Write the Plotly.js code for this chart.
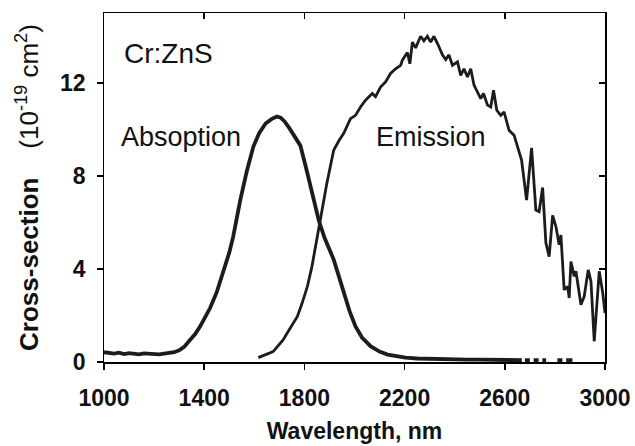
<!DOCTYPE html>
<html>
<head>
<meta charset="utf-8">
<script src="https://cdn.plot.ly/plotly-3.0.1.min.js"></script>
<style>html,body{margin:0;padding:0;background:#fff}#chart{width:635px;height:446px}</style>
</head>
<body>
<div id="chart"></div>
<script>
// Absorption cross-section (10^-19 cm^2) vs wavelength (nm)
var absWl = [1000,1020,1040,1060,1080,1100,1120,1140,1160,1180,1200,1220,1240,1260,1280,1300,1320,1344,1364,1384,1404,1424,1450,1476,1500,1516,1530,1544,1570,1596,1620,1645,1670,1690,1705,1720,1740,1760,1784,1810,1837,1857,1880,1900,1917,1937,1957,1980,2004,2030,2064,2100,2132,2170,2204,2250,2300,2350,2400,2450,2500,2550,2600,2668,2674,2680,2700,2708,2715,2735,2742,2750,2765,2772,2810,2830,2838,2845,2870];
var absVal = [0.42,0.38,0.36,0.40,0.34,0.38,0.36,0.33,0.37,0.35,0.36,0.33,0.36,0.38,0.42,0.50,0.65,0.96,1.20,1.53,1.90,2.33,3.00,3.83,4.70,5.40,6.20,6.96,8.20,9.25,9.85,10.25,10.45,10.55,10.50,10.35,10.05,9.70,9.30,8.20,6.96,6.10,5.35,4.85,4.40,3.70,2.97,2.20,1.53,1.05,0.68,0.45,0.32,0.24,0.19,0.15,0.13,0.12,0.11,0.10,0.10,0.09,0.09,0.08,null,0.08,0.08,null,0.08,0.08,null,0.08,0.08,null,0.08,0.08,null,0.08,0.08];

// Emission cross-section (10^-19 cm^2) vs wavelength (nm)
var emWl = [1616,1640,1660,1676,1700,1715,1732,1750,1772,1790,1812,1830,1844,1864,1890,1917,1937,1957,1984,2004,2024,2044,2071,2084,2104,2124,2144,2164,2184,2191,2211,2221,2231,2244,2264,2277,2291,2304,2317,2331,2351,2364,2377,2391,2411,2424,2437,2451,2464,2477,2491,2504,2515,2531,2544,2555,2568,2584,2597,2617,2637,2656,2667,2687,2707,2724,2737,2751,2764,2777,2791,2804,2817,2824,2837,2851,2857,2864,2877,2884,2904,2917,2933,2944,2957,2977,2991,3000];
var emVal = [0.19,0.28,0.38,0.46,0.75,0.95,1.26,1.55,1.96,2.50,3.25,4.10,4.96,6.10,7.70,9.10,9.50,9.83,10.46,10.60,10.96,11.25,11.54,11.40,11.82,12.04,12.40,12.60,12.75,12.97,13.30,12.82,13.75,13.50,14.00,13.80,14.00,13.75,14.00,13.70,13.20,13.00,13.20,12.75,12.90,12.32,12.60,12.25,12.60,11.90,11.60,11.32,11.54,11.04,10.96,11.68,10.82,10.60,10.75,9.96,9.75,9.10,8.68,6.96,9.20,6.53,6.46,7.50,5.12,4.53,6.30,5.82,5.04,5.46,3.10,3.25,2.75,4.32,3.68,3.90,2.46,2.82,3.96,3.46,0.89,3.90,2.97,2.10];

var xTicks = [1000,1400,1800,2200,2600,3000];
var yTicks = [0,4,8,12];
var labels = ["Cr:ZnS","Absoption","Emission"];

var FONT = "Liberation Sans, Arial, Helvetica, sans-serif";
var ink = "#1c1c1c";

var traces = [
  {x: absWl, y: absVal, mode: "lines", connectgaps: false, line: {color: ink, width: 3.8}, hoverinfo: "skip"},
  {x: emWl, y: emVal, mode: "lines", line: {color: ink, width: 2.8}, hoverinfo: "skip"},
  {x: [xTicks[0]], y: [yTicks[0]], xaxis: "x2", yaxis: "y2", mode: "markers", marker: {opacity: 0}, showlegend: false, hoverinfo: "skip"},
  {x: [xTicks[0]], y: [yTicks[0]], xaxis: "x3", yaxis: "y", mode: "markers", marker: {opacity: 0}, showlegend: false, hoverinfo: "skip"}
];

var layout = {
  width: 635, height: 446,
  margin: {l: 104, r: 30, t: 13, b: 84},
  paper_bgcolor: "#fff", plot_bgcolor: "#fff",
  showlegend: false,
  font: {family: FONT, color: "#111"},
  xaxis: {
    range: [1000, 3000], tickvals: xTicks,
    ticks: "outside", ticklen: 6, tickwidth: 1.5, tickcolor: "#000",
    showline: true, linecolor: "#000", linewidth: 1.5, showgrid: false, zeroline: false,
    showticklabels: false
  },
  xaxis3: {
    overlaying: "x", side: "bottom", range: [1000, 3000], tickvals: xTicks, ticktext: xTicks.map(String),
    ticks: "outside", ticklen: 15, tickwidth: 1, tickcolor: "rgba(0,0,0,0)",
    showline: false, showgrid: false, zeroline: false,
    tickfont: {family: FONT, size: 23, weight: "bold", color: "#111"},
    title: {text: "<b>Wavelength, nm</b>", font: {family: FONT, size: 23, color: "#111"}, standoff: 13}
  },
  yaxis: {
    range: [0, 15], tickvals: yTicks, ticktext: yTicks.map(function (v) { return v + "\u00a0"; }),
    ticks: "outside", ticklen: 6, tickwidth: 1.5, tickcolor: "#000",
    showline: true, linecolor: "#000", linewidth: 1.5, showgrid: false, zeroline: false,
    tickfont: {family: FONT, size: 23, weight: "bold", color: "#111"},
    title: {text: "<b>Cross-section</b>\u00a0\u00a0\u00a0 (10<sup>-19</sup>\u00a0cm<sup>2</sup>)", font: {family: FONT, size: 26, color: "#111"}, standoff: 14}
  },
  xaxis2: {
    overlaying: "x", side: "top", range: [1000, 3000], tickvals: xTicks,
    ticks: "inside", ticklen: 6, tickwidth: 1.5, tickcolor: "#000",
    showticklabels: false, showline: true, linecolor: "#000", linewidth: 1.5, showgrid: false, zeroline: false
  },
  yaxis2: {
    overlaying: "y", side: "right", range: [0, 15], tickvals: yTicks,
    ticks: "inside", ticklen: 6, tickwidth: 1.5, tickcolor: "#000",
    showticklabels: false, showline: true, linecolor: "#000", linewidth: 1.5, showgrid: false, zeroline: false
  },
  annotations: [
    {text: labels[0], xref: "paper", yref: "paper", x: (168-104)/501, y: (446-84-54)/349, xanchor: "center", yanchor: "middle", showarrow: false, font: {family: FONT, size: 28, color: "#111"}},
    {text: labels[1], xref: "paper", yref: "paper", x: (181-104)/501, y: (446-84-137)/349, xanchor: "center", yanchor: "middle", showarrow: false, font: {family: FONT, size: 27, color: "#111"}},
    {text: labels[2], xref: "paper", yref: "paper", x: (431-104)/501, y: (446-84-137)/349, xanchor: "center", yanchor: "middle", showarrow: false, font: {family: FONT, size: 27, color: "#111"}}
  ]
};

Plotly.newPlot("chart", traces, layout, {staticPlot: true, displayModeBar: false});
</script>
</body>
</html>
